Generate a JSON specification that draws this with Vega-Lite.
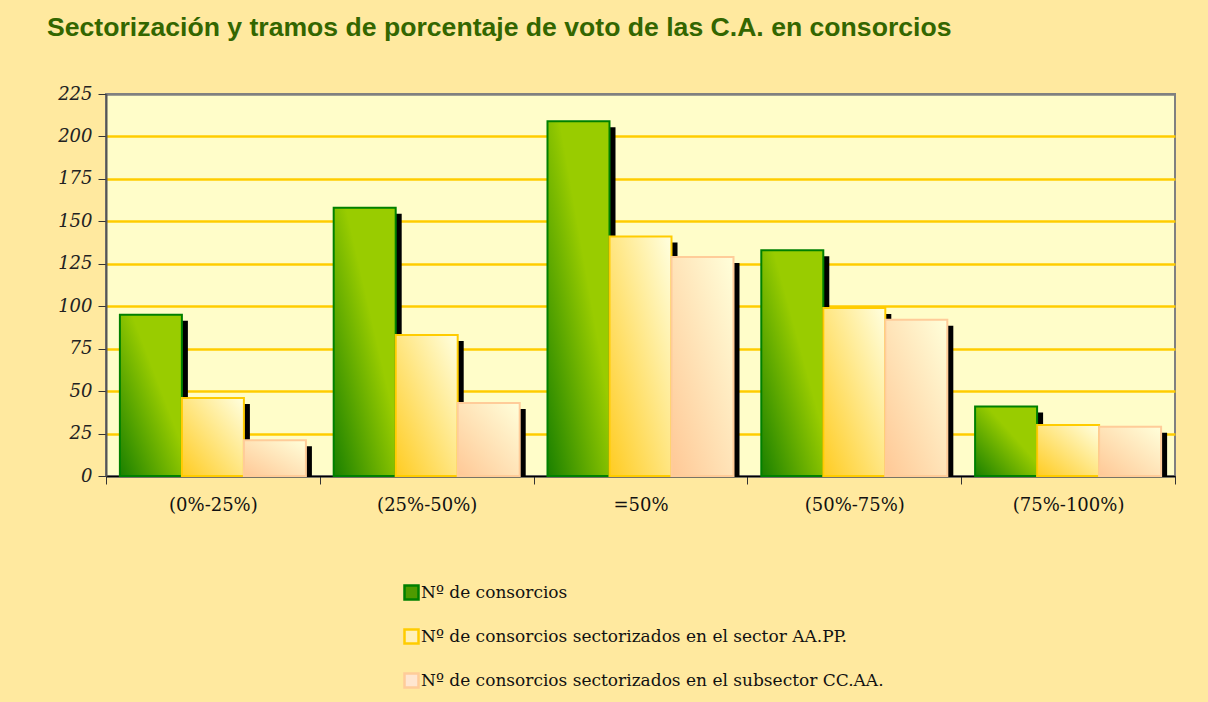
{
  "$schema": "https://vega.github.io/schema/vega-lite/v6.json",
  "width": 1069,
  "height": 382,
  "autosize": "none",
  "padding": {"left": 106, "top": 94, "right": 33, "bottom": 226},
  "background": "#FFE99F",
  "title": {
    "text": "Sectorización y tramos de porcentaje de voto de las C.A. en consorcios",
    "anchor": "start",
    "frame": "group",
    "dx": -59,
    "offset": 22,
    "baseline": "alphabetic",
    "font": "Liberation Sans",
    "fontSize": 26.6,
    "fontWeight": "bold",
    "color": "#336600"
  },
  "config": {
    "view": {"fill": "#FFFDC9", "stroke": "#808080", "strokeWidth": 2}
  },
  "data": {
    "values": [
      {"cat": "(0%-25%)", "serie": "Nº de consorcios", "value": 95},
      {"cat": "(0%-25%)", "serie": "Nº de consorcios sectorizados en el sector AA.PP.", "value": 46},
      {"cat": "(0%-25%)", "serie": "Nº de consorcios sectorizados en el subsector CC.AA.", "value": 21},
      {"cat": "(25%-50%)", "serie": "Nº de consorcios", "value": 158},
      {"cat": "(25%-50%)", "serie": "Nº de consorcios sectorizados en el sector AA.PP.", "value": 83},
      {"cat": "(25%-50%)", "serie": "Nº de consorcios sectorizados en el subsector CC.AA.", "value": 43},
      {"cat": "=50%", "serie": "Nº de consorcios", "value": 209},
      {"cat": "=50%", "serie": "Nº de consorcios sectorizados en el sector AA.PP.", "value": 141},
      {"cat": "=50%", "serie": "Nº de consorcios sectorizados en el subsector CC.AA.", "value": 129},
      {"cat": "(50%-75%)", "serie": "Nº de consorcios", "value": 133},
      {"cat": "(50%-75%)", "serie": "Nº de consorcios sectorizados en el sector AA.PP.", "value": 99},
      {"cat": "(50%-75%)", "serie": "Nº de consorcios sectorizados en el subsector CC.AA.", "value": 92},
      {"cat": "(75%-100%)", "serie": "Nº de consorcios", "value": 41},
      {"cat": "(75%-100%)", "serie": "Nº de consorcios sectorizados en el sector AA.PP.", "value": 30},
      {"cat": "(75%-100%)", "serie": "Nº de consorcios sectorizados en el subsector CC.AA.", "value": 29}
    ]
  },
  "encoding": {
    "x": {
      "field": "cat",
      "type": "nominal",
      "sort": ["(0%-25%)", "(25%-50%)", "=50%", "(50%-75%)", "(75%-100%)"],
      "scale": {"paddingInner": 0, "paddingOuter": 0},
      "axis": {
        "title": null,
        "labelAngle": 0,
        "labelFont": "DejaVu Serif",
        "labelFontSize": 18,
        "labelColor": "#111111",
        "labelPadding": 12,
        "tickBand": "extent",
        "tickSize": 8,
        "tickColor": "#333333",
        "domainColor": "#000000",
        "domainWidth": 1.5,
        "grid": false
      }
    },
    "xOffset": {
      "field": "serie",
      "type": "nominal",
      "scale": {
        "domain": ["Nº de consorcios", "Nº de consorcios sectorizados en el sector AA.PP.", "Nº de consorcios sectorizados en el subsector CC.AA."],
        "paddingInner": 0,
        "paddingOuter": 0.224
      }
    },
    "y": {
      "field": "value",
      "type": "quantitative",
      "scale": {"domain": [0, 225], "nice": false},
      "axis": {
        "title": null,
        "values": [0, 25, 50, 75, 100, 125, 150, 175, 200, 225],
        "labelFont": "DejaVu Serif",
        "labelFontStyle": "italic",
        "labelFontSize": 18,
        "labelColor": "#222222",
        "labelPadding": 6,
        "tickSize": 8,
        "tickColor": "#333333",
        "domainColor": "#555555",
        "domainWidth": 2,
        "gridColor": {"condition": {"test": "datum.value === 225 || datum.value === 0", "value": "#808080"}, "value": "#FFCC00"},
        "gridWidth": 2.5
      }
    }
  },
  "resolve": {"scale": {"xOffset": "independent"}},
  "layer": [
    {
      "mark": {"type": "square", "opacity": 0},
      "encoding": {
        "fill": {
          "field": "serie",
          "type": "nominal",
          "scale": {
            "domain": ["Nº de consorcios", "Nº de consorcios sectorizados en el sector AA.PP.", "Nº de consorcios sectorizados en el subsector CC.AA."],
            "range": ["#4E9A00", "#FFF0B8", "#FFE6D0"]
          },
          "legend": {
            "title": null,
            "orient": "none",
            "legendX": 297,
            "legendY": 490,
            "direction": "vertical",
            "symbolType": "square",
            "symbolSize": 196,
            "symbolStrokeWidth": 2.5,
            "symbolOpacity": 1,
            "labelFont": "DejaVu Serif",
            "labelFontSize": 17,
            "labelColor": "#111111",
            "labelLimit": 0,
            "labelOffset": 1,
            "rowPadding": 19
          }
        },
        "stroke": {
          "field": "serie",
          "type": "nominal",
          "scale": {
            "domain": ["Nº de consorcios", "Nº de consorcios sectorizados en el sector AA.PP.", "Nº de consorcios sectorizados en el subsector CC.AA."],
            "range": ["#008000", "#FFCC00", "#FFCC99"]
          },
          "legend": {
            "title": null,
            "orient": "none",
            "legendX": 297,
            "legendY": 490,
            "direction": "vertical",
            "symbolType": "square",
            "symbolSize": 196,
            "symbolStrokeWidth": 2.5,
            "symbolOpacity": 1,
            "labelFont": "DejaVu Serif",
            "labelFontSize": 17,
            "labelColor": "#111111",
            "labelLimit": 0,
            "labelOffset": 1,
            "rowPadding": 19
          }
        }
      }
    },
    {
      "mark": {"type": "bar", "fill": "#000000", "yOffset": 6, "clip": true},
      "encoding": {
        "xOffset": {
          "field": "serie",
          "type": "nominal",
          "scale": {
            "domain": ["Nº de consorcios", "Nº de consorcios sectorizados en el sector AA.PP.", "Nº de consorcios sectorizados en el subsector CC.AA."],
            "range": [6, 219.8],
            "paddingInner": 0,
            "paddingOuter": 0.224
          }
        }
      }
    },
    {
      "transform": [{"filter": "datum.serie === 'Nº de consorcios'"}],
      "mark": {
        "type": "bar",
        "strokeWidth": 2,
        "stroke": "#008000",
        "fill": {"gradient": "linear", "x1": 0, "y1": 1, "x2": 1, "y2": 0, "stops": [{"offset": 0, "color": "#1A8000"}, {"offset": 0.6, "color": "#99CC00"}, {"offset": 1, "color": "#99CC00"}]}
      }
    },
    {
      "transform": [{"filter": "datum.serie === 'Nº de consorcios sectorizados en el sector AA.PP.'"}],
      "mark": {
        "type": "bar",
        "strokeWidth": 2,
        "stroke": "#FFCC00",
        "fill": {"gradient": "linear", "x1": 0, "y1": 1, "x2": 1, "y2": 0, "stops": [{"offset": 0, "color": "#FFCC22"}, {"offset": 1, "color": "#FFFFE0"}]}
      }
    },
    {
      "transform": [{"filter": "datum.serie === 'Nº de consorcios sectorizados en el subsector CC.AA.'"}],
      "mark": {
        "type": "bar",
        "strokeWidth": 2,
        "stroke": "#FFCC99",
        "fill": {"gradient": "linear", "x1": 0, "y1": 1, "x2": 1, "y2": 0, "stops": [{"offset": 0, "color": "#FFC896"}, {"offset": 1, "color": "#FFFFDA"}]}
      }
    }
  ]
}
